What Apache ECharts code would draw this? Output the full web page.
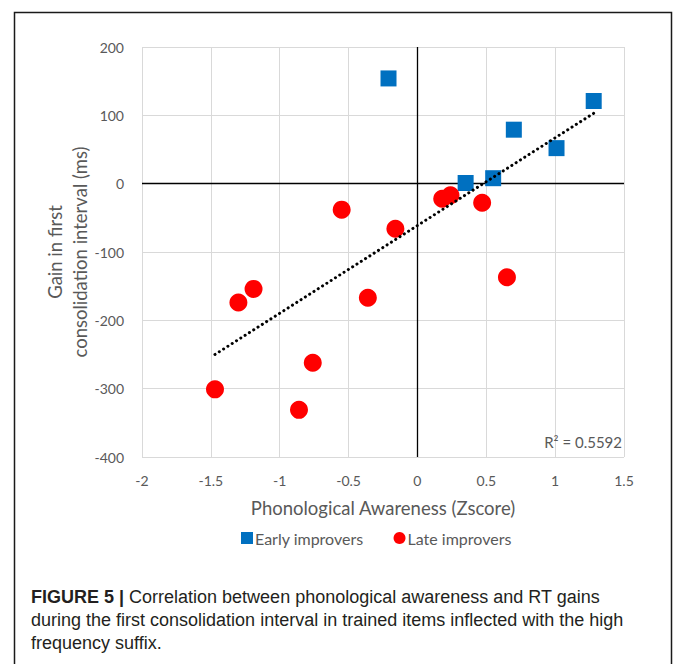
<!DOCTYPE html>
<html>
<head>
<meta charset="utf-8">
<script src="https://cdn.jsdelivr.net/npm/echarts@6/dist/echarts.min.js"></script>
<style>
html,body{margin:0;padding:0;background:#fff;}
#chart{width:673px;height:664px;}
</style>
</head>
<body>
<div id="chart"></div>
<script>
// ---- data ----
const earlyX = [-0.21, 0.35, 0.55, 0.70, 1.01, 1.28];
const earlyY = [154, 1, 8, 79, 52, 121];
const lateX = [-1.47, -1.30, -1.19, -0.86, -0.76, -0.55, -0.36, -0.16, 0.18, 0.24, 0.47, 0.65];
const lateY = [-301, -174, -154, -331, -262, -38, -167, -66, -22, -17, -28, -137];
const trendX = [-1.47, 1.28];
const trendY = [-250, 103];
const xTicks = { min: -2, max: 1.5, interval: 0.5 };
const yTicks = { min: -400, max: 200, interval: 100 };
const seriesNames = ['Early improvers', 'Late improvers'];
const xTitle = 'Phonological Awareness (Zscore)';
const yTitle = 'Gain in first\nconsolidation interval (ms)';
const r2Text = 'R² = 0.5592';
const captionBold = 'FIGURE 5 |';
const captionLines = [
  ' Correlation between phonological awareness and RT gains',
  'during the first consolidation interval in trained items inflected with the high',
  'frequency suffix.'
];

const pairs = (xs, ys) => xs.map((x, i) => [x, ys[i]]);
const gray = '#595959';
const chartFont = 'Lato';
const capColor = '#231f20';

const chart = echarts.init(document.getElementById('chart'), null, { renderer: 'svg' });
chart.setOption({
  animation: false,
  backgroundColor: '#fff',
  grid: { left: 142, right: 49, top: 47, bottom: 207, containLabel: false },
  xAxis: {
    type: 'value', min: xTicks.min, max: xTicks.max, interval: xTicks.interval,
    axisLine: { show: false }, axisTick: { show: false },
    splitLine: { show: true, lineStyle: { color: '#d9d9d9', width: 1 } },
    axisLabel: { color: gray, fontFamily: chartFont, fontSize: 14, margin: 16 },
    name: xTitle, nameLocation: 'middle', nameGap: 41,
    nameTextStyle: { color: gray, fontFamily: chartFont, fontSize: 18.5 }
  },
  yAxis: {
    type: 'value', min: yTicks.min, max: yTicks.max, interval: yTicks.interval,
    axisLine: { show: false }, axisTick: { show: false },
    splitLine: { show: true, lineStyle: { color: '#d9d9d9', width: 1 } },
    axisLabel: { color: gray, fontFamily: chartFont, fontSize: 14, margin: 18 },
    name: yTitle, nameLocation: 'middle', nameGap: 50, nameRotate: 90, nameMoveOverlap: false,
    nameTextStyle: { color: gray, fontFamily: chartFont, fontSize: 18.5, lineHeight: 25, align: 'center' }
  },
  legend: {
    left: 236, top: 525, itemGap: 30, itemWidth: 12, itemHeight: 12,
    textStyle: { color: gray, fontFamily: chartFont, fontSize: 16, padding: [0, 0, 0, -3] },
    data: [
      { name: seriesNames[0], icon: 'rect' },
      { name: seriesNames[1], icon: 'circle' }
    ]
  },
  series: [
    {
      name: seriesNames[0], type: 'scatter', symbol: 'rect', symbolSize: 16,
      itemStyle: { color: '#0070C0', opacity: 1 }, z: 3,
      data: pairs(earlyX, earlyY),
      markLine: {
        silent: true, symbol: 'none', label: { show: false },
        lineStyle: { color: '#000', width: 1.3, type: 'solid' },
        data: [{ xAxis: 0 }, { yAxis: 0 }],
        z: 1
      }
    },
    {
      name: seriesNames[1], type: 'scatter', symbol: 'circle', symbolSize: 18,
      itemStyle: { color: '#FF0000', opacity: 1 }, z: 3,
      data: pairs(lateX, lateY)
    },
    {
      name: 'trend', type: 'line', showSymbol: false, symbol: 'none', z: 5, silent: true,
      lineStyle: { color: '#000', width: 3, type: [0.1, 5], cap: 'round' },
      data: pairs(trendX, trendY)
    }
  ],
  graphic: [
    {
      type: 'rect', silent: true, z: 0,
      shape: { x: 14.5, y: 12.5, width: 657, height: 700 },
      style: { fill: 'none', stroke: '#1a1a1a', lineWidth: 1.5 }
    },
    {
      type: 'text', x: 622, y: 442, z: 10,
      style: { text: r2Text, fill: gray, font: '15px ' + chartFont, textAlign: 'right', textVerticalAlign: 'middle' }
    },
    {
      type: 'text', x: 31, y: 597, z: 10,
      style: {
        text: '{b|' + captionBold + '}{n|' + captionLines[0] + '}',
        textVerticalAlign: 'middle',
        rich: {
          b: { fontFamily: 'Liberation Sans', fontSize: 18, fontWeight: 'bold', fill: capColor },
          n: { fontFamily: 'Liberation Sans', fontSize: 18, fill: capColor }
        }
      }
    },
    {
      type: 'text', x: 31, y: 620, z: 10,
      style: { text: captionLines[1], fill: capColor, font: '18px "Liberation Sans"', textVerticalAlign: 'middle' }
    },
    {
      type: 'text', x: 31, y: 643, z: 10,
      style: { text: captionLines[2], fill: capColor, font: '18px "Liberation Sans"', textVerticalAlign: 'middle' }
    }
  ]
});
</script>
</body>
</html>
